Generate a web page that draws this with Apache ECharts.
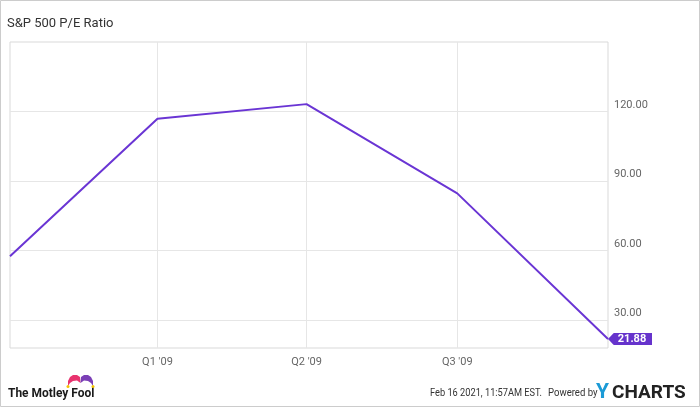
<!DOCTYPE html>
<html>
<head>
<meta charset="utf-8">
<script src="https://cdn.jsdelivr.net/npm/echarts@6/dist/echarts.min.js"></script>
<style>
html,body{margin:0;padding:0;background:#fff;}
#chart{width:700px;height:407px;}
</style>
</head>
<body>
<div id="chart"></div>
<script>
// ---- data ----
const dates = ['2008-12-31', '2009-03-31', '2009-06-30', '2009-09-30', '2009-12-31'];
const peValues = [57.6, 116.9, 123.2, 84.7, 21.88];
const xTickDates = ['2009-03-31', '2009-06-30', '2009-09-30'];
const xTickLabels = ["Q1 '09", "Q2 '09", "Q3 '09"];
const yTickValues = [30, 60, 90, 120];
const titleText = 'S&P 500 P/E Ratio';
const footerDate = 'Feb 16 2021, 11:57AM EST.';
const footerPowered = 'Powered by';

const lineColor = '#6a35d4';
const DAY = 86400000;
const t0 = new Date(dates[0] + 'T00:00:00Z').getTime();
const dayOf = s => Math.round((new Date(s + 'T00:00:00Z').getTime() - t0) / DAY);
const xTickDays = xTickDates.map(dayOf);
const seriesData = dates.map((d, i) => [dayOf(d), peValues[i]]);
const lastPoint = seriesData[seriesData.length - 1];

const chart = echarts.init(document.getElementById('chart'), null, {renderer: 'canvas'});
chart.setOption({
  backgroundColor: '#ffffff',
  animation: false,
  textStyle: {fontFamily: 'Roboto'},
  title: {
    text: titleText,
    left: 2, top: 12,
    textStyle: {fontSize: 13, fontWeight: 'normal', color: '#333', fontFamily: 'Roboto'}
  },
  grid: {
    left: 10, right: 92, top: 42, bottom: 59,
    show: true, borderColor: '#d9d9d9', borderWidth: 1,
    containLabel: false
  },
  xAxis: {
    type: 'value',
    min: 0,
    max: dayOf(dates[dates.length - 1]),
    axisLine: {show: false},
    axisTick: {show: false, customValues: xTickDays},
    axisLabel: {
      customValues: xTickDays,
      formatter: v => { const i = xTickDays.indexOf(v); return i >= 0 ? xTickLabels[i] : ''; },
      color: '#666', fontSize: 11, margin: 9, fontFamily: 'Roboto'
    },
    splitLine: {show: true, lineStyle: {color: '#e6e6e6', width: 1}}
  },
  yAxis: {
    type: 'value',
    position: 'right',
    min: 18, max: 150,
    axisLine: {show: false},
    axisTick: {show: false, customValues: yTickValues},
    axisLabel: {
      customValues: yTickValues,
      formatter: v => v.toFixed(2),
      color: '#666', fontSize: 11, margin: 6,
      verticalAlign: 'bottom', padding: [0, 0, 1, 0], fontFamily: 'Roboto'
    },
    splitLine: {show: true, lineStyle: {color: '#e6e6e6', width: 1}}
  },
  series: [{
    type: 'line',
    data: seriesData,
    showSymbol: false,
    symbol: 'none',
    lineStyle: {color: lineColor, width: 2},
    itemStyle: {color: lineColor},
    markPoint: {
      symbol: 'path://M0,6 L6,0 L46,0 L46,12 L6,12 Z',
      symbolSize: [44, 12],
      symbolOffset: [22, 0],
      silent: true,
      itemStyle: {color: '#6633cc'},
      label: {
        show: true,
        position: 'inside',
        offset: [2, 0],
        color: '#fff', fontSize: 11, fontWeight: 'bold', fontFamily: 'Roboto',
        formatter: p => p.value.toFixed(2)
      },
      data: [{coord: lastPoint, value: lastPoint[1]}]
    }
  }],
  graphic: [
    {type: 'rect', shape: {x: 0.5, y: 0.5, width: 699, height: 406}, style: {fill: 'none', stroke: '#cccccc', lineWidth: 1}, silent: true},
    // Motley Fool logo
    {type: 'text', x: 8, y: 394, scaleX: 0.92, style: {text: 'The Motley Fool', font: 'bold 13px Roboto', fill: '#1a1a1a', textVerticalAlign: 'middle', textAlign: 'left'}},
    {type: 'polygon', shape: {points: [[68,386],[68,381],[70,377],[73,375],[77,375],[80,377],[80.5,383],[77,380.5],[73,381],[70,383]]}, style: {fill: '#e8336e'}},
    {type: 'polygon', shape: {points: [[93,386],[93,381],[91,377],[88,375],[84,375],[81,377],[80.5,383],[84,380.5],[88,381],[91,383]]}, style: {fill: '#7b3fb6'}},
    {type: 'circle', shape: {cx: 68, cy: 386.5, r: 1.5}, style: {fill: '#f5c400'}},
    {type: 'circle', shape: {cx: 93, cy: 386.5, r: 1.5}, style: {fill: '#f5c400'}},
    // footer
    {type: 'text', x: 430, y: 393, scaleX: 0.84, style: {text: footerDate, font: '11px Roboto', fill: '#333', textVerticalAlign: 'middle'}},
    {type: 'text', x: 548, y: 393, scaleX: 0.87, style: {text: footerPowered, font: '11px Roboto', fill: '#333', textVerticalAlign: 'middle'}},
    {type: 'text', x: 596, y: 393, style: {text: 'Y', font: 'bold 21px Roboto', fill: '#1b9ad6', textVerticalAlign: 'middle'}},
    {type: 'text', x: 612, y: 393, style: {text: 'CHARTS', font: 'bold 19px Roboto', fill: '#222', textVerticalAlign: 'middle'}}
  ]
});
</script>
</body>
</html>
